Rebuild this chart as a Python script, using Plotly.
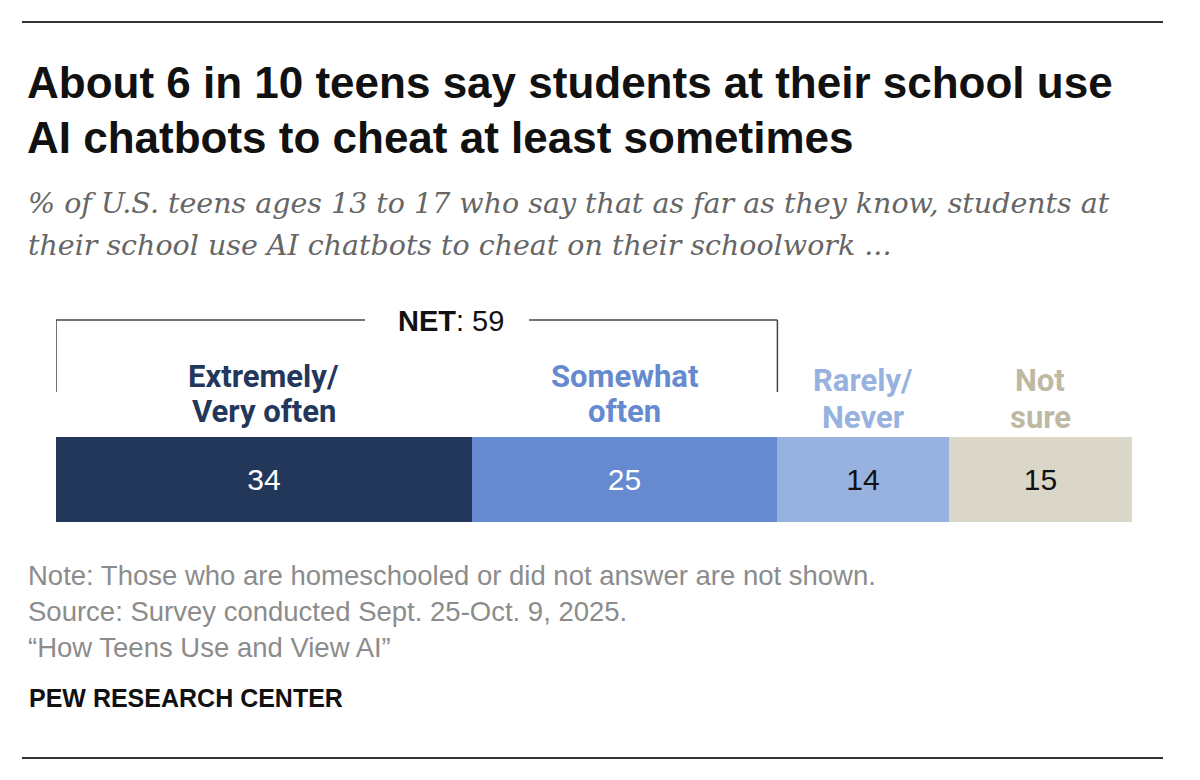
import plotly.graph_objects as go

categories = ["Extremely/<br>Very often", "Somewhat<br>often", "Rarely/<br>Never", "Not<br>sure"]
values = [34, 25, 14, 15]
bar_colors = ["#23375B", "#658ACF", "#98B2DF", "#DAD7C9"]
label_colors = ["#23375B", "#658ACF", "#98B2DF", "#BDB9A4"]
value_colors = ["white", "white", "#111111", "#111111"]
net_parts = 2  # first two categories make up the NET

title_lines = ["About 6 in 10 teens say students at their school use",
               "AI chatbots to cheat at least sometimes"]
subtitle_lines = ["% of U.S. teens ages 13 to 17 who say that as far as they know, students at",
                  "their school use AI chatbots to cheat on their schoolwork ..."]
notes = ["Note: Those who are homeschooled or did not answer are not shown.",
         "Source: Survey conducted Sept. 25-Oct. 9, 2025.",
         "\u201cHow Teens Use and View AI\u201d"]

# page body has an 8px margin, so the figure is a bit smaller than the window
OFF = 8
W, H = 1200 - 2 * OFF, 780 - 2 * OFF
L, R, T, B = 56 - OFF, 1132 - OFF, 437 - OFF, 522 - OFF


def px(x):
    # window pixel -> paper x
    return (x - OFF - L) / (R - L)


def py(y):
    # window pixel -> paper y
    return (B - (y - OFF)) / (B - T)


fig = go.Figure()
for cat, v, c, tc in zip(categories, values, bar_colors, value_colors):
    fig.add_trace(go.Bar(
        y=["all"], x=[v], orientation="h", name=cat,
        marker=dict(color=c, line=dict(width=0)),
        text=[str(v)], textposition="inside", insidetextanchor="middle",
        textfont=dict(family="Liberation Sans, Arial", size=30, color=tc),
        width=1, hoverinfo="skip",
    ))

ann = []


def text_line(s, x, y, size, color, family="Liberation Sans, Arial", xref="paper", anchor="left"):
    ann.append(dict(x=x, xref=xref, y=py(y), yref="paper", text=s, showarrow=False,
                    xanchor=anchor, yanchor="middle", align=anchor,
                    font=dict(family=family, size=size, color=color)))


start = 0
for i, (cat, v, lc) in enumerate(zip(categories, values, label_colors)):
    ys = (376, 411) if i < net_parts else (380, 417)
    for part, y in zip(cat.split("<br>"), ys):
        text_line(f"<b>{part}</b>", start + v / 2, y, 31, lc, family="Roboto", xref="x", anchor="center")
    start += v

# NET bracket over the first categories
net = sum(values[:net_parts])
net_mid = px(447)
gap = 82 / (R - L)
text_line(f"<b>NET</b>: {net}", px(451), 321, 29, "#111111", anchor="center")

for t, y in zip(title_lines, (82, 137)):
    text_line(f"<b>{t}</b>", px(25), y, 44, "#111111")
for t, y in zip(subtitle_lines, (203, 245)):
    text_line(f"<i>{t}</i>", px(26), y, 28.5, "#666666", family="DejaVu Serif")
for k, line in enumerate(notes):
    text_line(line, px(26), 575 + 36 * k, 27.5, "#8C8C8C")
text_line("<b>PEW RESEARCH CENTER</b>", px(27), 698, 25, "#111111")

line_style = dict(color="#444444", width=1.5)
shapes = [
    dict(type="line", xref="paper", yref="paper", x0=px(22), x1=px(1163), y0=py(22), y1=py(22),
         line=dict(color="#333333", width=2)),
    dict(type="line", xref="paper", yref="paper", x0=px(22), x1=px(1163), y0=py(758), y1=py(758),
         line=dict(color="#333333", width=2)),
    dict(type="line", xref="x", yref="paper", x0=0, x1=0, y0=py(320), y1=py(392), line=line_style),
    dict(type="line", xref="x", yref="paper", x0=net, x1=net, y0=py(320), y1=py(392), line=line_style),
    dict(type="line", xref="x", yref="paper", x0=0, x1=(net_mid - gap) * sum(values),
         y0=py(320), y1=py(320), line=line_style),
    dict(type="line", xref="x", yref="paper", x0=(net_mid + gap) * sum(values), x1=net,
         y0=py(320), y1=py(320), line=line_style),
]

fig.update_layout(
    width=W, height=H, barmode="stack", bargap=0,
    margin=dict(l=L, r=W - R, t=T, b=H - B),
    paper_bgcolor="white", plot_bgcolor="white", showlegend=False,
    xaxis=dict(range=[0, sum(values)], visible=False, fixedrange=True),
    yaxis=dict(range=[-0.5, 0.5], visible=False, fixedrange=True),
    annotations=ann, shapes=shapes,
    uniformtext=dict(minsize=10, mode="show"),
)

fig.write_html("out.html")
